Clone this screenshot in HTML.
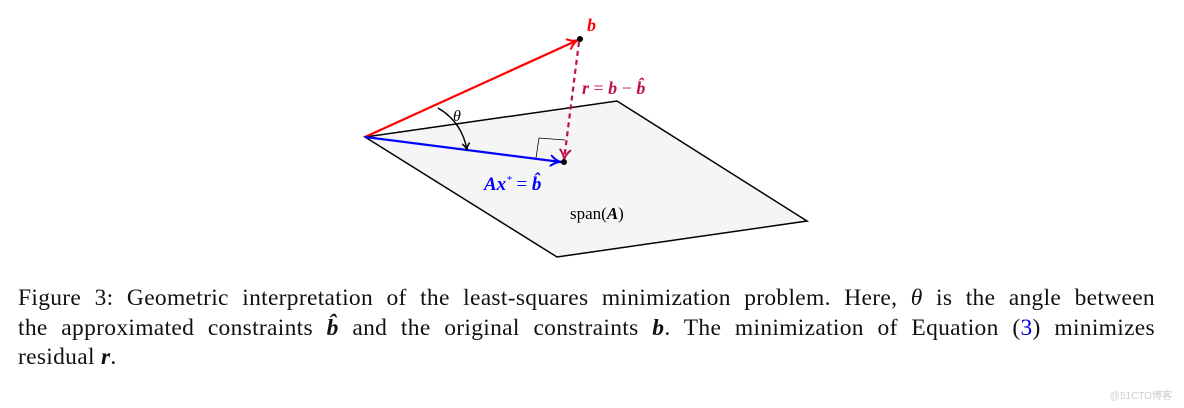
<!DOCTYPE html>
<html><head><meta charset="utf-8"><style>
html,body{margin:0;padding:0;background:#fff;width:1184px;height:408px;overflow:hidden;position:relative}
svg{position:absolute;left:0;top:0}
.l{position:absolute;left:18px;width:1137px;font-family:"Liberation Serif",serif;font-size:23.5px;letter-spacing:0.3px;color:#111;white-space:nowrap;text-align:justify;text-align-last:justify}
.wm{position:absolute;right:12px;bottom:6px;font-family:"Liberation Sans","Noto Sans CJK SC",sans-serif;font-size:10px;color:#ccc}
</style></head><body>
<svg width="1184" height="408" viewBox="0 0 1184 408">
<defs>
<marker id="ar" markerWidth="12" markerHeight="12" refX="11" refY="6" orient="auto" markerUnits="userSpaceOnUse"><path d="M0,0 Q6,6 12,6 Q6,6 0,12" fill="none" stroke="red" stroke-width="2"/></marker>
<marker id="ab" markerWidth="12" markerHeight="12" refX="11" refY="6" orient="auto" markerUnits="userSpaceOnUse"><path d="M0,0 Q6,6 12,6 Q6,6 0,12" fill="none" stroke="blue" stroke-width="2"/></marker>
<marker id="am" markerWidth="12" markerHeight="12" refX="11" refY="6" orient="auto" markerUnits="userSpaceOnUse"><path d="M0,0 Q6,6 12,6 Q6,6 0,12" fill="none" stroke="#c0104a" stroke-width="2"/></marker>
<marker id="ak" markerWidth="8" markerHeight="8" refX="7" refY="4" orient="auto" markerUnits="userSpaceOnUse"><path d="M0,0 Q4,4 8,4 Q4,4 0,8" fill="none" stroke="#000" stroke-width="1.5"/></marker>
</defs>
<polygon points="365,137 617,101 807,221 557,257" fill="#f5f5f5" stroke="#000" stroke-width="1.5"/>
<polyline points="536,158 539,138 565,140" fill="none" stroke="#000" stroke-width="0.8"/>
<line x1="365" y1="137" x2="578" y2="40" stroke="red" stroke-width="2.2" marker-end="url(#ar)"/>
<line x1="365" y1="137" x2="561" y2="162" stroke="blue" stroke-width="2.2" marker-end="url(#ab)"/>
<line x1="579" y1="42" x2="564" y2="160" stroke="#c0104a" stroke-width="2.2" stroke-dasharray="5,4" marker-end="url(#am)"/>
<path d="M438,108 Q462,122 467,150" fill="none" stroke="#000" stroke-width="1.4" marker-end="url(#ak)"/>
<circle cx="580" cy="39" r="3" fill="#000"/>
<circle cx="564" cy="162" r="3" fill="#000"/>
<g font-family="Liberation Serif,serif" font-style="italic" font-weight="bold">
<text x="587" y="31" font-size="18" fill="red">b</text>
<text x="582" y="94" font-size="18" fill="#c0104a">r <tspan font-style="normal" font-weight="normal">=</tspan> b <tspan font-style="normal" font-weight="normal">−</tspan> b̂</text>
<text x="484" y="190" font-size="19" fill="blue">Ax<tspan font-size="11" dy="-7" font-weight="normal">*</tspan><tspan dy="7" font-style="normal" font-weight="normal"> = </tspan>b̂</text>
</g>
<text x="453" y="121" font-family="Liberation Serif,serif" font-style="italic" font-size="16">θ</text>
<text x="570" y="219" font-family="Liberation Serif,serif" font-size="17">span(<tspan font-style="italic" font-weight="bold">A</tspan>)</text>
</svg>
<div class="l" style="top:285px">Figure 3: Geometric interpretation of the least-squares minimization problem. Here, <i>θ</i> is the angle between</div>
<div class="l" style="top:315px">the approximated constraints <b><i>b̂</i></b> and the original constraints <b><i>b</i></b>. The minimization of Equation (<span style="color:#0000e0">3</span>) minimizes</div>
<div class="l" style="top:344px;text-align:left;text-align-last:left">residual <b><i>r</i></b>.</div>
<div class="wm">@51CTO博客</div>
</body></html>
